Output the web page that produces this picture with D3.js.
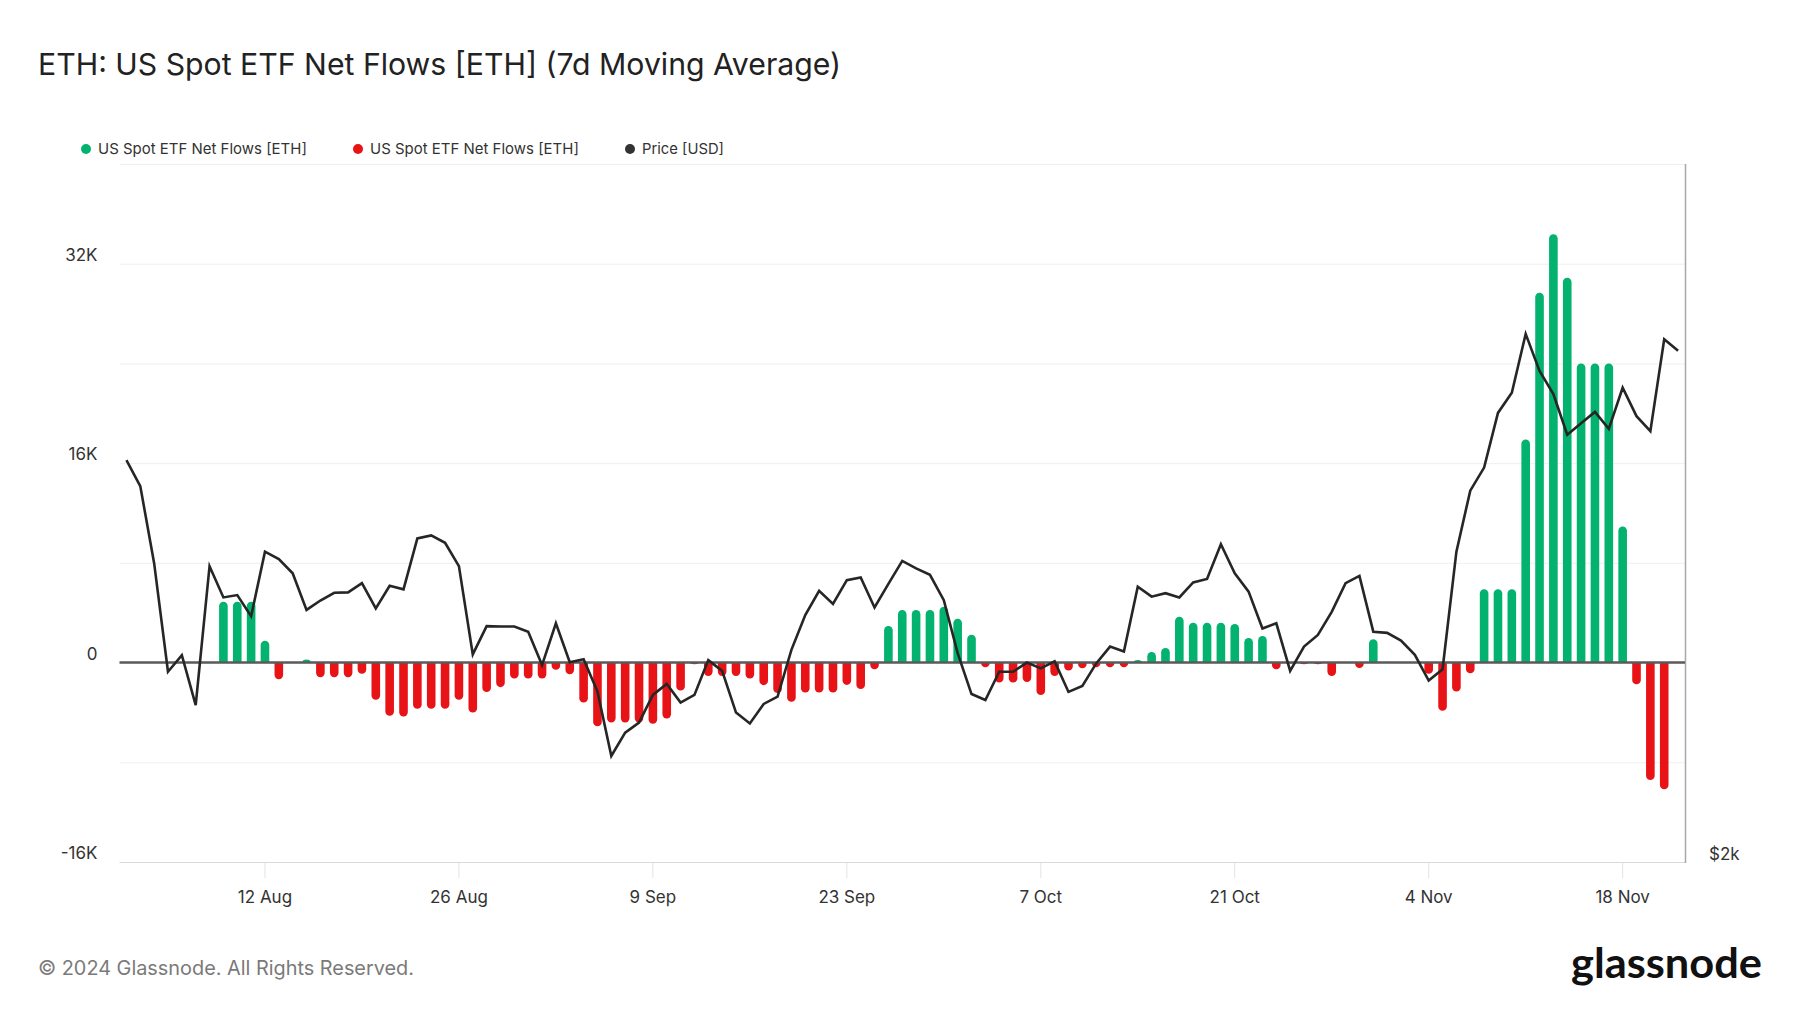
<!DOCTYPE html>
<html><head><meta charset="utf-8">
<script src="https://cdn.jsdelivr.net/npm/d3@7"></script>
<style>body{margin:0;background:#fff}svg{display:block;font-family:Inter,"Open Sans",sans-serif}</style>
</head><body><svg id="c" width="1800" height="1013"></svg>
<script>
// ---------- DATA ----------
const dates = [
"2024-08-02","2024-08-03","2024-08-04","2024-08-05","2024-08-06","2024-08-07","2024-08-08","2024-08-09","2024-08-10","2024-08-11",
"2024-08-12","2024-08-13","2024-08-14","2024-08-15","2024-08-16","2024-08-17","2024-08-18","2024-08-19","2024-08-20","2024-08-21",
"2024-08-22","2024-08-23","2024-08-24","2024-08-25","2024-08-26","2024-08-27","2024-08-28","2024-08-29","2024-08-30","2024-08-31",
"2024-09-01","2024-09-02","2024-09-03","2024-09-04","2024-09-05","2024-09-06","2024-09-07","2024-09-08","2024-09-09","2024-09-10",
"2024-09-11","2024-09-12","2024-09-13","2024-09-14","2024-09-15","2024-09-16","2024-09-17","2024-09-18","2024-09-19","2024-09-20",
"2024-09-21","2024-09-22","2024-09-23","2024-09-24","2024-09-25","2024-09-26","2024-09-27","2024-09-28","2024-09-29","2024-09-30",
"2024-10-01","2024-10-02","2024-10-03","2024-10-04","2024-10-05","2024-10-06","2024-10-07","2024-10-08","2024-10-09","2024-10-10",
"2024-10-11","2024-10-12","2024-10-13","2024-10-14","2024-10-15","2024-10-16","2024-10-17","2024-10-18","2024-10-19","2024-10-20",
"2024-10-21","2024-10-22","2024-10-23","2024-10-24","2024-10-25","2024-10-26","2024-10-27","2024-10-28","2024-10-29","2024-10-30",
"2024-10-31","2024-11-01","2024-11-02","2024-11-03","2024-11-04","2024-11-05","2024-11-06","2024-11-07","2024-11-08","2024-11-09",
"2024-11-10","2024-11-11","2024-11-12","2024-11-13","2024-11-14","2024-11-15","2024-11-16","2024-11-17","2024-11-18","2024-11-19",
"2024-11-20","2024-11-21","2024-11-22"];

// 7d MA net flows [ETH] (null = no bar)
const netFlows = [
null,null,null,null,null,null,null,4880,4880,4880,
1760,-1330,0,250,-1170,-1170,-1170,-900,-2990,-4270,
-4320,-3700,-3700,-3700,-2990,-4000,-2370,-1970,-1280,-1280,
-1270,-580,-930,-3200,-5120,-4800,-4800,-4800,-4900,-4480,
-2240,-130,-1070,-1070,-1070,-1280,-1810,-2450,-3150,-2400,
-2400,-2400,-1790,-2130,-530,2930,4210,4210,4210,4480,
3520,2240,-370,-1600,-1600,-1550,-2610,-1070,-640,-450,
-370,-370,-370,210,850,1170,3680,3200,3200,3200,
3090,1970,2130,-530,-60,-130,-130,-1070,0,-430,
1870,60,0,0,-900,-3860,-2330,-860,5880,5880,
5880,17900,29680,34360,30880,24000,24000,24000,10920,-1740,
-9420,-10170,null];

// ETH price [USD]
const price = [
2981,2905,2691,2416,2456,2337,2683,2601,2607,2553,
2722,2702,2664,2569,2593,2613,2614,2638,2573,2631,
2622,2758,2766,2746,2683,2458,2528,2527,2527,2514,
2432,2535,2439,2446,2369,2222,2274,2297,2361,2387,
2343,2361,2444,2418,2320,2295,2340,2357,2469,2556,
2618,2584,2646,2653,2575,2636,2697,2677,2660,2594,
2461,2363,2349,2416,2416,2438,2424,2441,2368,2382,
2436,2477,2465,2629,2603,2612,2601,2640,2649,2742,
2664,2616,2522,2535,2418,2477,2506,2564,2638,2657,
2514,2511,2492,2457,2395,2422,2722,2892,2959,3124,
3187,3379,3257,3183,3057,3092,3127,3075,3203,3114,
3068,3361,3323];

const leftGridValues = [-16000,-8000,0,8000,16000,24000,32000,40000];
const leftLabelValues = [-16000,0,16000,32000];
const leftLabelText = ["-16K","0","16K","32K"];
const rightLabelValues = [2000];
const rightLabelText = ["$2k"];
const xTickDates = ["2024-08-12","2024-08-26","2024-09-09","2024-09-23","2024-10-07","2024-10-21","2024-11-04","2024-11-18"];
const legendLabels = ["US Spot ETF Net Flows [ETH]","US Spot ETF Net Flows [ETH]","Price [USD]"];
const titleText = "ETH: US Spot ETF Net Flows [ETH] (7d Moving Average)";
const footerText = "\u00A9 2024 Glassnode. All Rights Reserved.";

// ---------- STYLE ----------
const GREEN = "#02b26e", RED = "#e81317", LINE = "#262626";
const svg = d3.select("#c");
const parse = d3.utcParse("%Y-%m-%d");
const D = dates.map(parse);

const L = 119.5, R = 1685, T = 164, B = 862;
const x = d3.scaleUtc()
  .domain([d3.utcHour.offset(d3.utcDay.offset(D[0], -1), 12), d3.utcHour.offset(D[D.length-1], 12)])
  .range([L, R]);
const yL = d3.scaleLinear().domain([-16000, 40000]).range([B, T]);
const yR = d3.scaleLog().domain([2000, 4000]).range([B, T]);

function fit(sel, target){
  const w = sel.node().getComputedTextLength();
  const fs = parseFloat(sel.attr("font-size"));
  if (w > 0) sel.attr("font-size", (fs * target / w).toFixed(2));
  return sel;
}

svg.append("rect").attr("width",1800).attr("height",1013).attr("fill","#fff");

// Title
fit(svg.append("text").attr("x",38).attr("y",75).attr("font-size",30)
  .attr("fill","#222").attr("font-weight",400).text(titleText), 803);

// Legend
const legendX = [86, 358, 630];
const legendColors = [GREEN, RED, "#333"];
legendLabels.forEach((t,i)=>{
  svg.append("circle").attr("cx",legendX[i]).attr("cy",149).attr("r",5).attr("fill",legendColors[i]);
  const tx = svg.append("text").attr("x",legendX[i]+12).attr("y",154).attr("font-size",14)
    .attr("fill","#333").text(t);
  fit(tx, i<2 ? 209 : 82);
});

// Grid
svg.append("g").selectAll("line").data(leftGridValues).join("line")
  .attr("x1",L).attr("x2",R).attr("y1",d=>yL(d)+0.5).attr("y2",d=>yL(d)+0.5)
  .attr("stroke",d=>d===-16000?"#d9d9d9":"#efefef").attr("stroke-width",1);

// Right border
svg.append("line").attr("x1",R+0.5).attr("x2",R+0.5).attr("y1",T).attr("y2",B+1)
  .attr("stroke","#a8a8a8").attr("stroke-width",1.5);

// Left labels
svg.append("g").selectAll("text").data(leftLabelValues).join("text")
  .attr("x",97.5).attr("y",d=>yL(d)-3).attr("text-anchor","end")
  .attr("font-size",17).attr("fill","#333").text((d,i)=>leftLabelText[i]);

// Right labels
svg.append("g").selectAll("text").data(rightLabelValues).join("text")
  .attr("x",1709).attr("y",d=>yR(d)-2).attr("font-size",17).attr("fill","#333")
  .text((d,i)=>rightLabelText[i]);

// X ticks
const xt = xTickDates.map(parse);
svg.append("g").selectAll("line").data(xt).join("line")
  .attr("x1",d=>x(d)).attr("x2",d=>x(d)).attr("y1",B+1).attr("y2",B+16)
  .attr("stroke","#e3e3e3").attr("stroke-width",1);
const fmt = d3.utcFormat("%-d %b");
svg.append("g").selectAll("text").data(xt).join("text")
  .attr("x",d=>x(d)).attr("y",903).attr("text-anchor","middle")
  .attr("font-size",17).attr("fill","#333").text(d=>fmt(d));

// Bars
const BW = 8.6;
function barPath(cx, y0, y1){
  const h = Math.abs(y1 - y0);
  if (h < 0.3) return null;
  const r = Math.min(BW/2, h), l = cx - BW/2, rr = cx + BW/2;
  if (y1 < y0) return `M${l},${y0}L${l},${y1+r}A${BW/2},${r} 0 0 1 ${rr},${y1+r}L${rr},${y0}Z`;
  return `M${l},${y0}L${l},${y1-r}A${BW/2},${r} 0 0 0 ${rr},${y1-r}L${rr},${y0}Z`;
}
const barData = D.map((d,i)=>({d, v: netFlows[i]})).filter(o=>o.v!==null && o.v!==0);
svg.append("g").selectAll("path").data(barData).join("path")
  .attr("d",o=>barPath(x(o.d), yL(0), yL(o.v)))
  .attr("fill",o=>o.v>0?GREEN:RED);

// Zero line
svg.append("line").attr("x1",L).attr("x2",R).attr("y1",yL(0)).attr("y2",yL(0))
  .attr("stroke","#5a5a5a").attr("stroke-width",2.5);

// Price line
svg.append("path").datum(D.map((d,i)=>({d, p: price[i]})))
  .attr("fill","none").attr("stroke",LINE).attr("stroke-width",2.6).attr("stroke-linejoin","miter")
  .attr("d", d3.line().x(o=>x(o.d)).y(o=>yR(o.p)));

// Footer
fit(svg.append("text").attr("x",38).attr("y",975).attr("font-size",20).attr("fill","#7a7a7a")
  .text(footerText), 376);

// Logo
svg.append("text").attr("x",1571).attr("y",978).attr("font-size",42)
  .attr("font-family","Lato, 'Noto Sans', sans-serif").attr("font-weight",700)
  .attr("fill","#111").attr("textLength",191).attr("lengthAdjust","spacingAndGlyphs")
  .text("glassnode");
</script></body></html>
